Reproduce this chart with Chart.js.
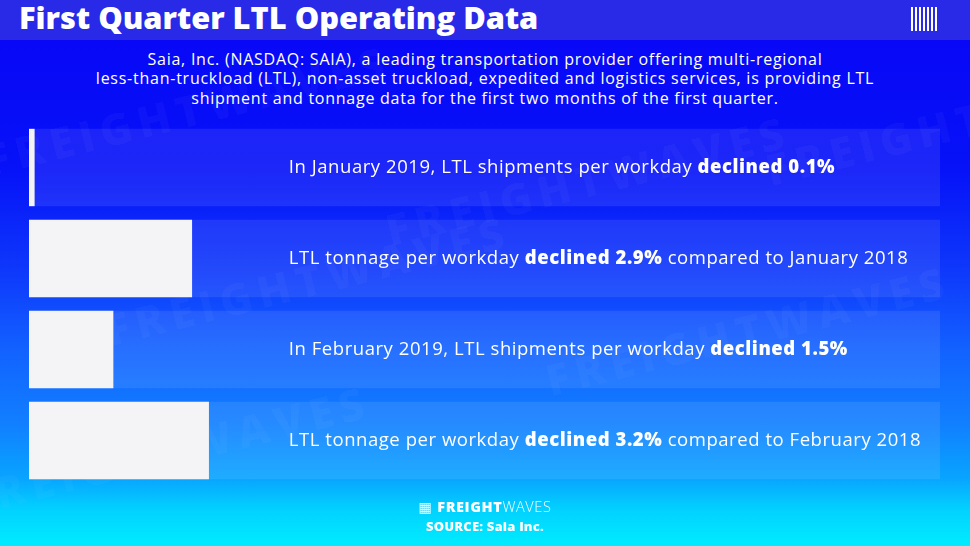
<!DOCTYPE html>
<html>
<head>
<meta charset="utf-8">
<script src="https://cdn.jsdelivr.net/npm/chart.js@4/dist/chart.umd.min.js"></script>
<style>
  html, body { margin: 0; padding: 0; }
  #page {
    position: relative; width: 970px; height: 546px; overflow: hidden;
    background: linear-gradient(to bottom, #0a0af6 0px, #0808f6 40px, #0612f8 170px, #0e38fb 270px, #1262ff 350px, #1180ff 425px, #08a4ff 478px, #02d2ff 510px, #00ecff 546px);
    font-family: "Open Sans", "DejaVu Sans", sans-serif; color: #fff;
  }
  #titlebar { position: absolute; left: 0; top: 0; width: 970px; height: 40px; background: #2929e8; }
  #title { position: absolute; left: 19px; top: -4px; font-size: 30.8px; font-weight: 800; }
  #logo { position: absolute; left: 911px; top: 7px; width: 28px; height: 24px;
    background: repeating-linear-gradient(to right, #fff 0 2px, transparent 2px 4px); }
  .wm { position: absolute; font-size: 44px; font-weight: 800; letter-spacing: 6px; color: rgba(255,255,255,0.03);
    transform: rotate(-14deg); white-space: nowrap; }
  #subtitle { position: absolute; left: 0; top: 50px; width: 970px; text-align: center;
    font-size: 16px; line-height: 19.3px; letter-spacing: 0.75px; }
  #footer { position: absolute; left: 0; top: 497px; width: 970px; text-align: center; }
  #fw { font-size: 14.5px; letter-spacing: 0.6px; line-height: 19px; }
  #fw b { font-weight: 800; }
  #fw span { font-weight: 300; }
  #src { font-size: 13px; font-weight: 800; line-height: 20px; letter-spacing: 0.2px; }
  canvas { position: absolute; left: 0; top: 0; }
</style>
</head>
<body>
<div id="page">
  <div id="titlebar"></div>
  <div class="wm" style="left:-20px; top:80px;">FREIGHTWAVES</div>
  <div class="wm" style="left:380px; top:150px;">FREIGHTWAVES</div>
  <div class="wm" style="left:100px; top:250px;">FREIGHTWAVES</div>
  <div class="wm" style="left:540px; top:300px;">FREIGHTWAVES</div>
  <div class="wm" style="left:-40px; top:420px;">FREIGHTWAVES</div>
  <div class="wm" style="left:760px; top:90px;">FREIGHTWAVES</div>
  <div id="title">First Quarter LTL Operating Data</div>
  <div id="logo"></div>
  <div id="subtitle">Saia, Inc. (NASDAQ: SAIA), a leading transportation provider offering multi-regional<br>less-than-truckload (LTL), non-asset truckload, expedited and logistics services, is providing LTL<br>shipment and tonnage data for the first two months of the first quarter.</div>
  <canvas id="chart" width="970" height="546"></canvas>
  <div id="footer">
    <div id="fw">&#9638; <b>FREIGHT</b><span>WAVES</span></div>
    <div id="src">SOURCE: Saia Inc.</div>
  </div>
</div>
<script>
// Decline in percent, one row per statement
const categories = ['Jan 2019 shipments', 'Jan 2019 tonnage', 'Feb 2019 shipments', 'Feb 2019 tonnage'];
const declines = [0.1, 2.9, 1.5, 3.2];
const axisMax = 16.2;

// Label text split into plain / bold / plain pieces
const labelBefore = [
  'In January 2019, LTL shipments per workday ',
  'LTL tonnage per workday ',
  'In February 2019, LTL shipments per workday ',
  'LTL tonnage per workday '
];
const labelBold = ['declined 0.1%', 'declined 2.9%', 'declined 1.5%', 'declined 3.2%'];
const labelAfter = ['', ' compared to January 2018', '', ' compared to February 2018'];

const rowLabels = {
  id: 'rowLabels',
  afterDatasetsDraw(chart) {
    const ctx = chart.ctx;
    const meta = chart.getDatasetMeta(1);
    const x0 = chart.scales.x.getPixelForValue(4.62);
    ctx.save();
    ctx.fillStyle = '#ffffff';
    ctx.textBaseline = 'middle';
    ctx.letterSpacing = '0.55px';
    meta.data.forEach((bar, i) => {
      let x = x0;
      const parts = [[labelBefore[i], '500'], [labelBold[i], '800'], [labelAfter[i], '500']];
      parts.forEach(([txt, w]) => {
        if (!txt) return;
        ctx.font = w + ' 18.5px "Open Sans", sans-serif';
        ctx.fillText(txt, x, bar.y);
        x += ctx.measureText(txt).width;
      });
    });
    ctx.restore();
  }
};

new Chart(document.getElementById('chart').getContext('2d'), {
  type: 'bar',
  data: {
    labels: categories,
    datasets: [{
      label: 'band',
      data: categories.map(() => axisMax),
      backgroundColor: 'rgba(255,255,255,0.09)',
      order: 2
    }, {
      label: 'Decline (%)',
      data: declines,
      backgroundColor: '#f4f4f6',
      order: 1
    }]
  },
  options: {
    indexAxis: 'y',
    responsive: false,
    animation: false,
    grouped: false,
    categoryPercentage: 1,
    barPercentage: 0.85,
    layout: { padding: { left: 29, right: 30, top: 122, bottom: 60 } },
    scales: {
      x: { display: false, min: 0, max: axisMax },
      y: { display: false }
    },
    plugins: { legend: { display: false }, tooltip: { enabled: false } }
  },
  plugins: [rowLabels]
});
</script>
</body>
</html>
